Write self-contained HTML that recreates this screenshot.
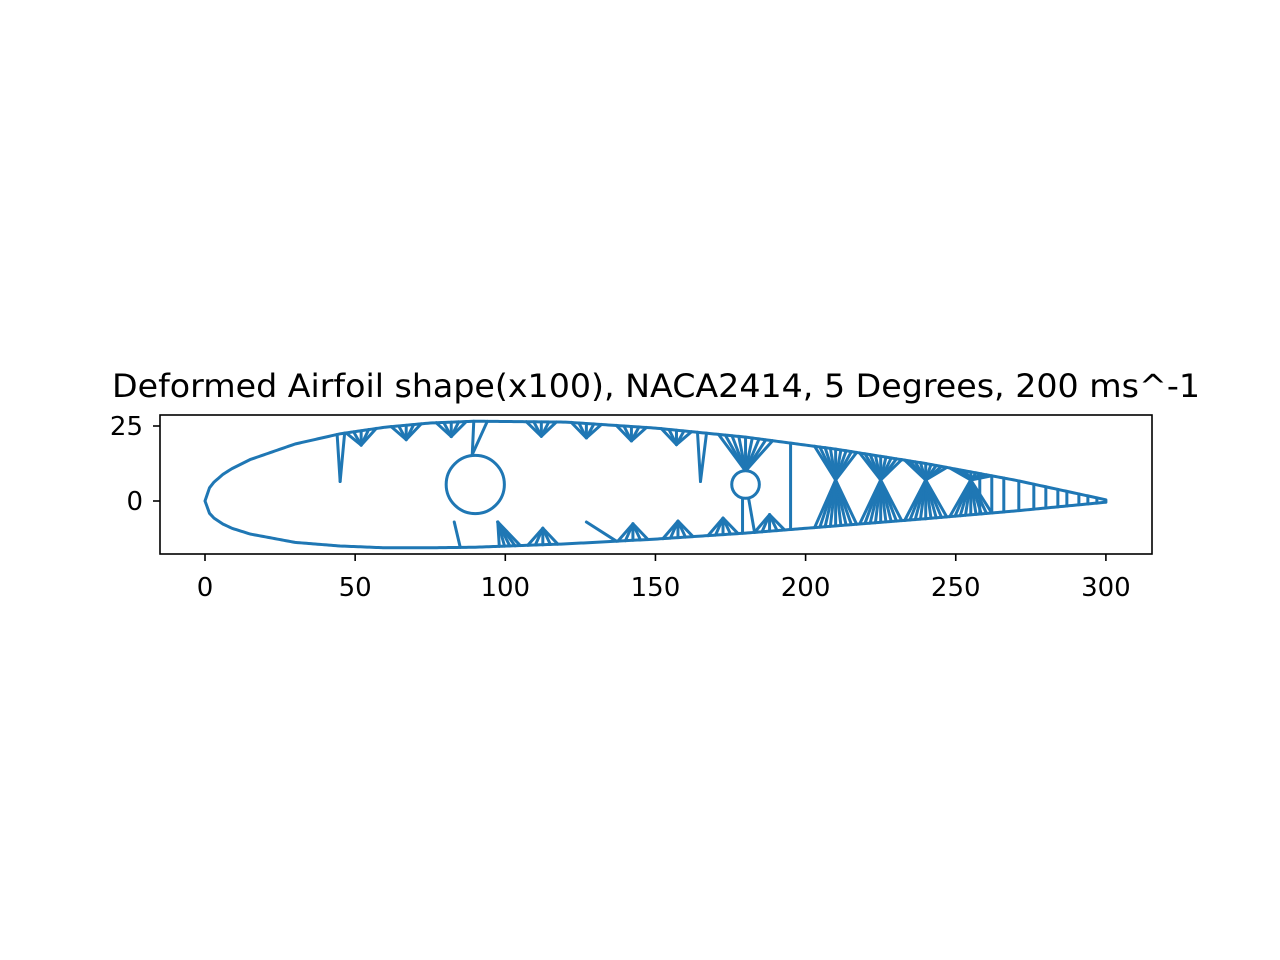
<!DOCTYPE html>
<html><head><meta charset="utf-8"><style>body{margin:0;background:#fff}svg{display:block}text{font-family:"DejaVu Sans","Liberation Sans",sans-serif;fill:#000}</style></head>
<body>
<svg id="c" width="1280" height="960">
<rect x="0" y="0" width="1280" height="960" fill="#fff"/>
<text x="656" y="397" font-size="32" text-anchor="middle" textLength="1088" lengthAdjust="spacingAndGlyphs">Deformed Airfoil shape(x100), NACA2414, 5 Degrees, 200 ms^-1</text>
<g id="plot"></g>
<rect x="160" y="415" width="992" height="139" fill="none" stroke="#000" stroke-width="1.6"/>
<g id="ticks"></g>
</svg>
<script>
const surfX=[0,1.5,3,6,9,15,30,45,60,75,90,120,150,180,210,240,270,300];
const upperY=[0,4.4,6.3,8.9,10.8,13.8,19.0,22.4,24.6,26.0,26.6,26.3,24.3,21.3,17.3,12.5,6.9,0.4];
const lowerY=[0,-4.1,-5.7,-7.7,-9.1,-11,-13.8,-15.0,-15.6,-15.6,-15.4,-14.3,-12.7,-10.7,-8.3,-5.9,-3.3,-0.4];
const topFanX=[52,67,82,112,127,142,157];
const botFanX=[112.5,142.5,157.5,172.5,188];
const nodeX=[210,225,240,255];
const vertX=[195,258,262,266,271,276,280,284,287,291,294,297];
const circles=[[90,5.5,9.7],[180,5.5,4.6]];
const xTicks=[0,50,100,150,200,250,300];
const yTicks=[0,25];
const sx=x=>205+x*3.003, sy=y=>501-y*3.0;
const NS='http://www.w3.org/2000/svg';
const plot=document.getElementById('plot'), tk=document.getElementById('ticks');
function interp(arr,x){for(let i=0;i<surfX.length-1;i++){if(x<=surfX[i+1]){const t=(x-surfX[i])/(surfX[i+1]-surfX[i]);return arr[i]+t*(arr[i+1]-arr[i]);}}return arr[arr.length-1];}
const up=x=>interp(upperY,x), lo=x=>interp(lowerY,x);
function line(x1,y1,x2,y2,name){const l=document.createElementNS(NS,'line');l.setAttribute('x1',sx(x1));l.setAttribute('y1',sy(y1));l.setAttribute('x2',sx(x2));l.setAttribute('y2',sy(y2));l.setAttribute('stroke','#1f77b4');l.setAttribute('stroke-width','3');l.setAttribute('stroke-linecap','round');


plot.appendChild(l);}
let pts=[];for(let x=0;x<=300;x+=0.75)pts.push(sx(x)+','+sy(up(x)));for(let x=300;x>=0;x-=0.75)pts.push(sx(x)+','+sy(lo(x)));
const pg=document.createElementNS(NS,'polygon');pg.setAttribute('points',pts.join(' '));pg.setAttribute('fill','none');pg.setAttribute('stroke','#1f77b4');pg.setAttribute('stroke-width','3');pg.setAttribute('stroke-linejoin','round');


plot.appendChild(pg);
topFanX.forEach(a=>{const ay=up(a)-4.8;for(let d=-5;d<=5;d+=2.5)line(a,ay,a+d,up(a+d),'top-truss-member');});
botFanX.forEach(a=>{const ay=lo(a)+5.5;for(let d=-5;d<=5;d+=2.5)line(a,ay,a+d,lo(a+d),'bottom-truss-member');});
for(let d=0;d<=7;d+=1.75)line(97.5,-7,98+d,lo(98+d),'bottom-truss-member');
line(127,-7,137,lo(137),'bottom-truss-member');
line(45,6.5,44,up(44),'spar-member');line(45,6.5,46.5,up(46.5),'spar-member');
line(165,6.5,164,up(164),'spar-member');line(165,6.5,167,up(167),'spar-member');
line(89,15.5,89.5,up(89.5),'spar-member');line(89,15.5,94,up(94),'spar-member');
line(83,-7,85,lo(85),'spar-member');
for(let d=-9;d<=9;d+=2.25)line(180,10,180+d,up(180+d),'rib-fan-member');
line(179,1,179,lo(179),'rib-member');line(181,1,183,lo(183),'rib-member');
nodeX.forEach(n=>{const ny=7;for(let d=-7;d<=7;d+=1.75){line(n,ny,n+d,up(n+d),'rib-fan-member');line(n,ny,n+d,lo(n+d),'rib-fan-member');}});
vertX.forEach(v=>line(v,up(v),v,lo(v),'vertical-rib'));
circles.forEach(c=>{const e=document.createElementNS(NS,'circle');e.setAttribute('cx',sx(c[0]));e.setAttribute('cy',sy(c[1]));e.setAttribute('r',c[2]*3);e.setAttribute('fill','#fff');e.setAttribute('stroke','#1f77b4');e.setAttribute('stroke-width','3');


plot.appendChild(e);});
xTicks.forEach(v=>{const l=document.createElementNS(NS,'line');l.setAttribute('x1',sx(v));l.setAttribute('x2',sx(v));l.setAttribute('y1',554);l.setAttribute('y2',561);l.setAttribute('stroke','#000');l.setAttribute('stroke-width','1.6');


tk.appendChild(l);const t=document.createElementNS(NS,'text');t.setAttribute('x',sx(v));t.setAttribute('y',596);t.setAttribute('font-size','26');t.setAttribute('text-anchor','middle');t.textContent=v;


tk.appendChild(t);});
yTicks.forEach(v=>{const l=document.createElementNS(NS,'line');l.setAttribute('x1',153);l.setAttribute('x2',160);l.setAttribute('y1',sy(v));l.setAttribute('y2',sy(v));l.setAttribute('stroke','#000');l.setAttribute('stroke-width','1.6');


tk.appendChild(l);const t=document.createElementNS(NS,'text');t.setAttribute('x',143);t.setAttribute('y',sy(v)+9);t.setAttribute('font-size','26');t.setAttribute('text-anchor','end');t.textContent=v;


tk.appendChild(t);});
</script>
</body></html>
